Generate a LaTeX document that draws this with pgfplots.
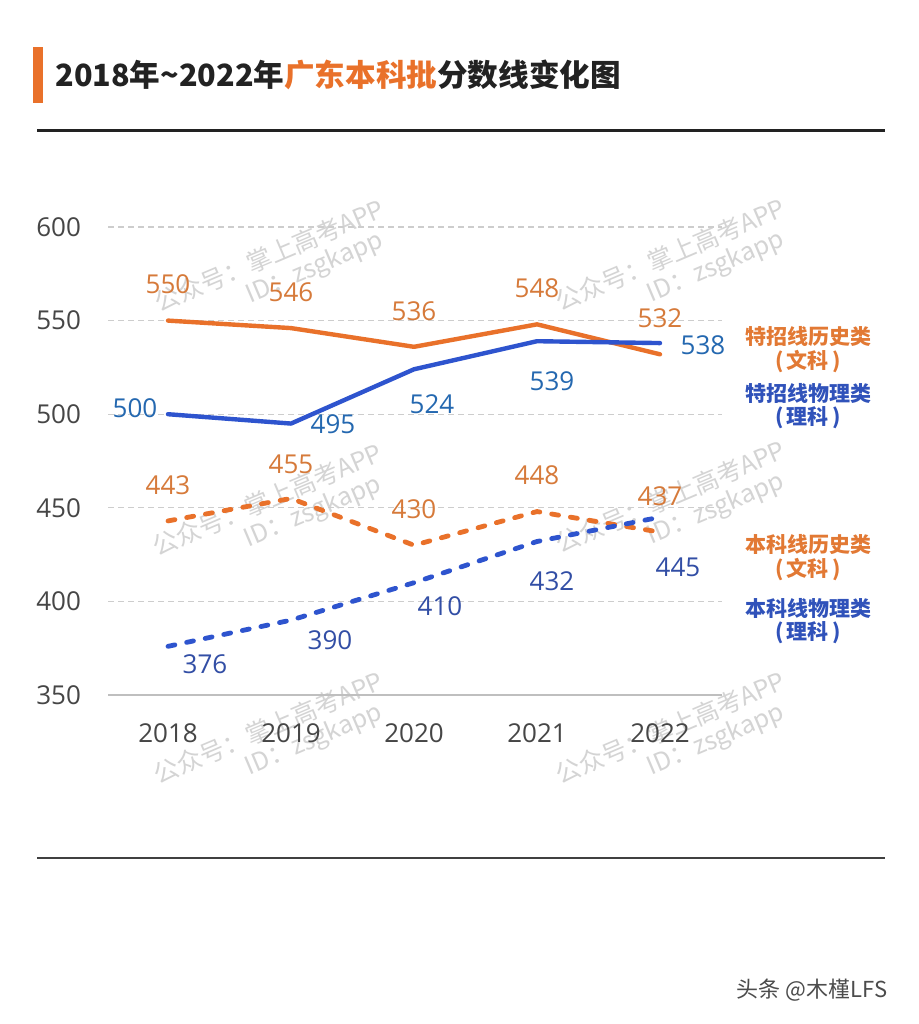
\documentclass[border=0pt]{standalone}
\usepackage{fontspec}
\setmainfont{Open Sans}
\newfontfamily\cjk{Noto Sans CJK SC}
\usepackage{pgfplots}
\pgfplotsset{compat=1.18}

\definecolor{lineorange}{RGB}{233,113,42}
\definecolor{lineblue}{RGB}{46,84,206}
\definecolor{laborange}{RGB}{214,122,58}
\definecolor{labblue}{RGB}{36,104,176}
\definecolor{labblue2}{RGB}{50,78,165}
\definecolor{legorange}{RGB}{226,121,52}
\definecolor{legblue}{RGB}{48,82,186}
\definecolor{gridgray}{RGB}{205,205,205}
\definecolor{ticktext}{RGB}{70,70,70}
\definecolor{wm}{RGB}{212,212,212}
\definecolor{titleblack}{RGB}{34,34,34}

\newcommand{\numfont}{\fontsize{13}{13}\selectfont}
\newcommand{\legfont}{\cjk\bfseries\fontsize{10.5}{12}\selectfont}

\begin{document}
\begin{tikzpicture}
\begin{scope}[x=0.5pt,y=-0.5pt]
\useasboundingbox (0,0) rectangle (918,1024);
\fill[white] (0,0) rectangle (918,1024);

% title
\fill[lineorange] (33,47) rectangle (43,103);
\node[anchor=west, inner sep=0pt, text=titleblack,
      font=\cjk\bfseries\fontsize{15.3}{16}\selectfont] at (55,75)
  {2018年\textasciitilde2022年\textcolor{lineorange}{广东本科批}分数线变化图};
\draw[titleblack, line width=1.5pt] (37,130) -- (885,130);
\draw[black!75, line width=0.6pt] (37,858) -- (885,858);

% watermarks
\foreach \wx/\wy in {275/270, 273/514, 274/742, 676/269, 676/511, 676/742}{
  \node[rotate=23, text=wm, align=center, inner sep=0pt,
        font=\cjk\fontsize{12.5}{13.5}\selectfont] at (\wx,\wy)
    {公众号：掌上高考APP\\\hspace*{3em}ID：zsgkapp};
}
\end{scope}

\begin{axis}[
    at={(54pt,-347.5pt)}, anchor=south west,
    scale only axis, width=307pt, height=234pt,
    xmin=-0.488, xmax=4.504,
    ymin=350, ymax=600,
    xtick={0,1,2,3,4},
    xticklabels={2018,2019,2020,2021,2022},
    ytick={400,450,500,550,600},
    extra y ticks={350},
    extra y tick style={grid style={solid, draw=black!25, line width=0.8pt}},
    axis line style={draw=none},
    major tick length=0pt,
    ymajorgrids,
    grid style={gridgray, dash pattern=on 3pt off 2pt, line width=0.6pt},
    /pgf/number format/assume math mode=true,
    tick label style={font=\numfont, text=ticktext},
    yticklabel style={xshift=-10pt},
    xticklabel style={yshift=-11pt},
    clip=false,
]

\addplot[lineorange, line width=2.2pt, line cap=round, line join=round]
  coordinates {(0,550) (1,546) (2,536) (3,548) (4,532)};
\addplot[lineblue, line width=2.2pt, line cap=round, line join=round]
  coordinates {(0,500) (1,495) (2,524) (3,539) (4,538)};
\addplot[lineorange, line width=2.4pt, line cap=round, dash pattern=on 3.5pt off 6pt]
  coordinates {(0,443) (1,455) (2,430) (3,448) (4,437)};
\addplot[lineblue, line width=2.4pt, line cap=round, dash pattern=on 3.5pt off 6pt]
  coordinates {(0,376) (1,390) (2,410) (3,432) (4,445)};

% value labels
\begin{scope}[every node/.style={font=\numfont, inner sep=0pt}]
\node[text=laborange, yshift=18pt] at (axis cs:0,550) {550};
\node[text=laborange, yshift=18pt] at (axis cs:1,546) {546};
\node[text=laborange, yshift=18pt] at (axis cs:2,536) {536};
\node[text=laborange, yshift=18pt] at (axis cs:3,548) {548};
\node[text=laborange, yshift=18pt] at (axis cs:4,532) {532};

\node[text=labblue, xshift=-16.5pt, yshift=3pt] at (axis cs:0,500) {500};
\node[text=labblue, xshift=21pt, yshift=-0.5pt] at (axis cs:1,495) {495};
\node[text=labblue, xshift=9pt, yshift=-17.5pt] at (axis cs:2,524) {524};
\node[text=labblue, xshift=7.5pt, yshift=-20pt] at (axis cs:3,539) {539};
\node[text=labblue, xshift=21.5pt, yshift=-1pt] at (axis cs:4,538) {538};

\node[text=laborange, yshift=18pt] at (axis cs:0,443) {443};
\node[text=laborange, yshift=17pt] at (axis cs:1,455) {455};
\node[text=laborange, yshift=18pt] at (axis cs:2,430) {430};
\node[text=laborange, yshift=18pt] at (axis cs:3,448) {448};
\node[text=laborange, yshift=18pt] at (axis cs:4,437) {437};

\node[text=labblue2, xshift=18.5pt, yshift=-9pt] at (axis cs:0,376) {376};
\node[text=labblue2, xshift=19.5pt, yshift=-10pt] at (axis cs:1,390) {390};
\node[text=labblue2, xshift=13pt, yshift=-12pt] at (axis cs:2,410) {410};
\node[text=labblue2, xshift=7.5pt, yshift=-20pt] at (axis cs:3,432) {432};
\node[text=labblue2, xshift=9pt, yshift=-25pt] at (axis cs:4,445) {445};
\end{scope}
\end{axis}

% series names
\begin{scope}[x=0.5pt,y=-0.5pt, every node/.style={font=\legfont, inner sep=0pt}]
\node[text=legorange] at (808,337) {特招线历史类};
\node[text=legorange] at (808,362) {(\,文科\,)};
\node[text=legblue]   at (808,393) {特招线物理类};
\node[text=legblue]   at (808,418) {(\,理科\,)};
\node[text=legorange] at (808,545) {本科线历史类};
\node[text=legorange] at (808,570) {(\,文科\,)};
\node[text=legblue]   at (808,608) {本科线物理类};
\node[text=legblue]   at (808,633) {(\,理科\,)};
\node[font=\cjk\fontsize{11}{11}\selectfont, text=black!70] at (812,990) {头条 @木槿LFS};
\end{scope}
\end{tikzpicture}
\end{document}
